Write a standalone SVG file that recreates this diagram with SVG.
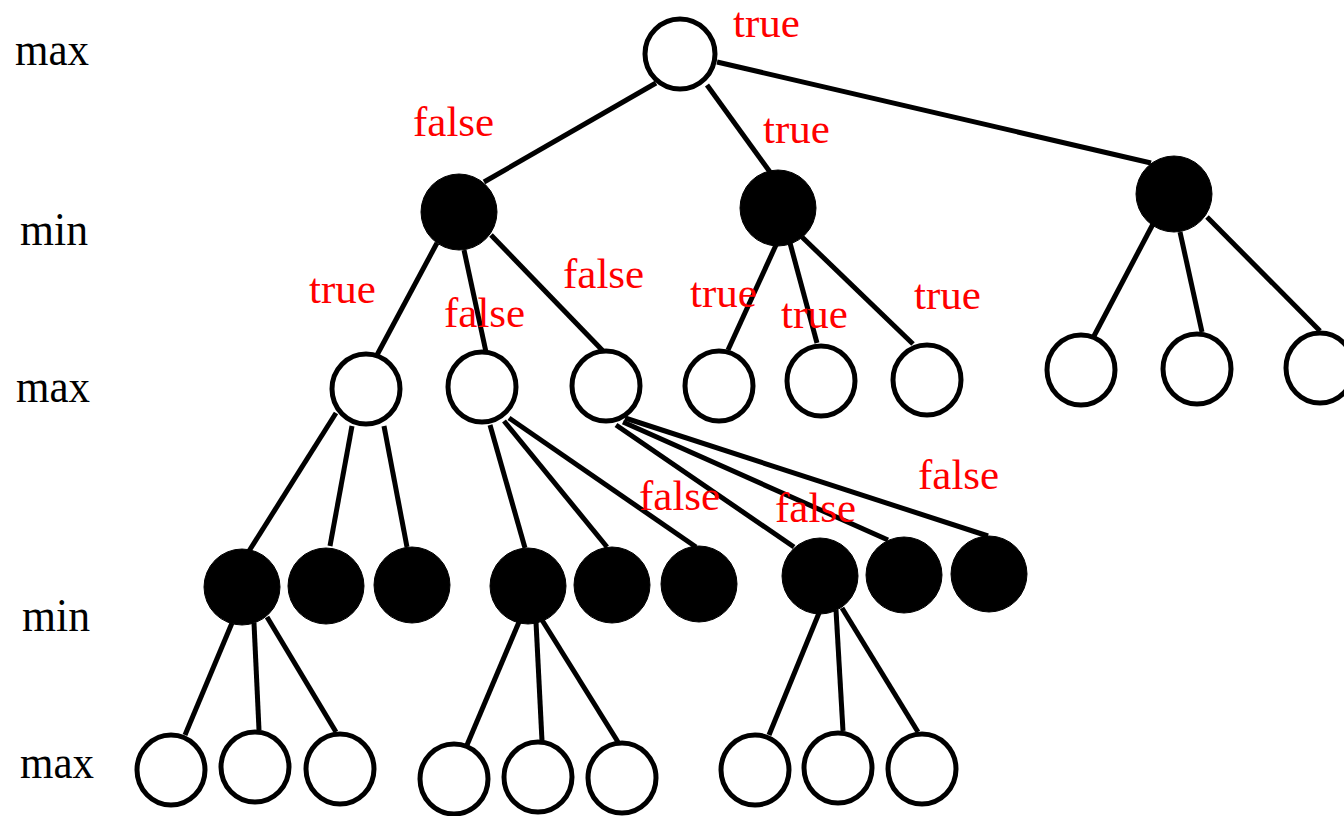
<svg xmlns="http://www.w3.org/2000/svg" width="1344" height="816" viewBox="0 0 1344 816">
  <style>
    .edge { stroke: #000; stroke-width: 5; fill: none; }
    .open { fill: #fff; stroke: #000; stroke-width: 5; }
    .solid { fill: #000; stroke: #000; stroke-width: 1; }
    .level { font-family: "Liberation Serif", "Times New Roman", serif; font-size: 47px; fill: #000; }
    .val { font-family: "Liberation Serif", "Times New Roman", serif; font-size: 43px; fill: #ff0000; }
  </style>
  <rect width="1344" height="816" fill="#fff"/>

  <!-- level captions -->
  <g id="levels">
    <text class="level" x="15" y="65" textLength="74" lengthAdjust="spacingAndGlyphs">max</text>
    <text class="level" x="20" y="245" textLength="68" lengthAdjust="spacingAndGlyphs">min</text>
    <text class="level" x="16" y="402" textLength="74" lengthAdjust="spacingAndGlyphs">max</text>
    <text class="level" x="22" y="631" textLength="68" lengthAdjust="spacingAndGlyphs">min</text>
    <text class="level" x="20" y="778" textLength="74" lengthAdjust="spacingAndGlyphs">max</text>
  </g>

  <!-- connectors -->
  <g id="edges">
    <line class="edge" x1="656" y1="83" x2="484" y2="182"/>
    <line class="edge" x1="707" y1="85" x2="770" y2="172"/>
    <line class="edge" x1="717" y1="62" x2="1151" y2="163"/>

    <line class="edge" x1="437" y1="243" x2="377" y2="355"/>
    <line class="edge" x1="464" y1="250" x2="486" y2="352"/>
    <line class="edge" x1="491" y1="235" x2="604" y2="352"/>

    <line class="edge" x1="776" y1="245" x2="728" y2="350"/>
    <line class="edge" x1="790" y1="243" x2="817" y2="343"/>
    <line class="edge" x1="802" y1="237" x2="913" y2="344"/>

    <line class="edge" x1="1153" y1="224" x2="1094" y2="336"/>
    <line class="edge" x1="1180" y1="232" x2="1202" y2="332"/>
    <line class="edge" x1="1207" y1="217" x2="1320" y2="331"/>

    <line class="edge" x1="336" y1="413" x2="249" y2="551"/>
    <line class="edge" x1="352" y1="426" x2="330" y2="546"/>
    <line class="edge" x1="384" y1="426" x2="407" y2="547"/>

    <line class="edge" x1="490" y1="425" x2="525" y2="548"/>
    <line class="edge" x1="504" y1="421" x2="607" y2="547"/>
    <line class="edge" x1="509" y1="418" x2="696" y2="547"/>

    <line class="edge" x1="616" y1="425" x2="794" y2="547"/>
    <line class="edge" x1="623" y1="422" x2="888" y2="540"/>
    <line class="edge" x1="625" y1="418" x2="988" y2="536"/>

    <line class="edge" x1="232" y1="623" x2="185" y2="735"/>
    <line class="edge" x1="254" y1="623" x2="259" y2="730"/>
    <line class="edge" x1="267" y1="617" x2="336" y2="732"/>

    <line class="edge" x1="519" y1="622" x2="467" y2="745"/>
    <line class="edge" x1="536" y1="622" x2="542" y2="741"/>
    <line class="edge" x1="542" y1="620" x2="618" y2="742"/>

    <line class="edge" x1="819" y1="613" x2="769" y2="735"/>
    <line class="edge" x1="836" y1="610" x2="843" y2="731"/>
    <line class="edge" x1="842" y1="608" x2="918" y2="732"/>
  </g>

  <!-- root -->
  <g id="root"><ellipse class="open" cx="680" cy="54" rx="35" ry="35"/></g>

  <!-- min level 1 -->
  <g id="nA"><ellipse class="solid" cx="459" cy="212" rx="38" ry="38"/></g>
  <g id="nB"><ellipse class="solid" cx="778" cy="208" rx="38" ry="38"/></g>
  <g id="nC"><ellipse class="solid" cx="1174" cy="194" rx="38" ry="38"/></g>

  <!-- max level 2 -->
  <g id="nA1"><ellipse class="open" cx="366" cy="389" rx="34" ry="35"/></g>
  <g id="nA2"><ellipse class="open" cx="482" cy="387" rx="34" ry="35"/></g>
  <g id="nA3"><ellipse class="open" cx="606" cy="386" rx="34" ry="35"/></g>
  <g id="nB1"><ellipse class="open" cx="719" cy="386" rx="34" ry="35"/></g>
  <g id="nB2"><ellipse class="open" cx="821" cy="381" rx="34" ry="35"/></g>
  <g id="nB3"><ellipse class="open" cx="927" cy="380" rx="34" ry="35"/></g>
  <g id="nC1"><ellipse class="open" cx="1081" cy="370" rx="34" ry="35"/></g>
  <g id="nC2"><ellipse class="open" cx="1197" cy="369" rx="34" ry="35"/></g>
  <g id="nC3"><ellipse class="open" cx="1320" cy="368" rx="34" ry="35"/></g>

  <!-- min level 3 -->
  <g id="nA1a"><ellipse class="solid" cx="242" cy="587" rx="38" ry="38"/></g>
  <g id="nA1b"><ellipse class="solid" cx="326" cy="586" rx="38" ry="38"/></g>
  <g id="nA1c"><ellipse class="solid" cx="412" cy="585" rx="38" ry="38"/></g>
  <g id="nA2a"><ellipse class="solid" cx="528" cy="586" rx="38" ry="38"/></g>
  <g id="nA2b"><ellipse class="solid" cx="612" cy="585" rx="38" ry="38"/></g>
  <g id="nA2c"><ellipse class="solid" cx="699" cy="584" rx="38" ry="38"/></g>
  <g id="nA3a"><ellipse class="solid" cx="820" cy="576" rx="38" ry="38"/></g>
  <g id="nA3b"><ellipse class="solid" cx="904" cy="575" rx="38" ry="38"/></g>
  <g id="nA3c"><ellipse class="solid" cx="989" cy="574" rx="38" ry="38"/></g>

  <!-- max level 4 -->
  <g id="nA1a1"><ellipse class="open" cx="171" cy="770" rx="34" ry="35"/></g>
  <g id="nA1a2"><ellipse class="open" cx="255" cy="767" rx="34" ry="35"/></g>
  <g id="nA1a3"><ellipse class="open" cx="340" cy="769" rx="34" ry="35"/></g>
  <g id="nA2a1"><ellipse class="open" cx="454" cy="779" rx="34" ry="35"/></g>
  <g id="nA2a2"><ellipse class="open" cx="538" cy="777" rx="34" ry="35"/></g>
  <g id="nA2a3"><ellipse class="open" cx="622" cy="778" rx="34" ry="35"/></g>
  <g id="nA3a1"><ellipse class="open" cx="755" cy="770" rx="34" ry="35"/></g>
  <g id="nA3a2"><ellipse class="open" cx="838" cy="768" rx="34" ry="35"/></g>
  <g id="nA3a3"><ellipse class="open" cx="922" cy="769" rx="34" ry="35"/></g>

  <!-- node values -->
  <g id="values">
    <text class="val" x="733" y="37">true</text>
    <text class="val" x="413" y="136">false</text>
    <text class="val" x="763" y="143">true</text>
    <text class="val" x="309" y="303">true</text>
    <text class="val" x="444" y="327">false</text>
    <text class="val" x="563" y="288">false</text>
    <text class="val" x="690" y="307">true</text>
    <text class="val" x="781" y="328">true</text>
    <text class="val" x="914" y="309">true</text>
    <text class="val" x="639" y="510">false</text>
    <text class="val" x="775" y="522">false</text>
    <text class="val" x="918" y="489">false</text>
  </g>
</svg>
